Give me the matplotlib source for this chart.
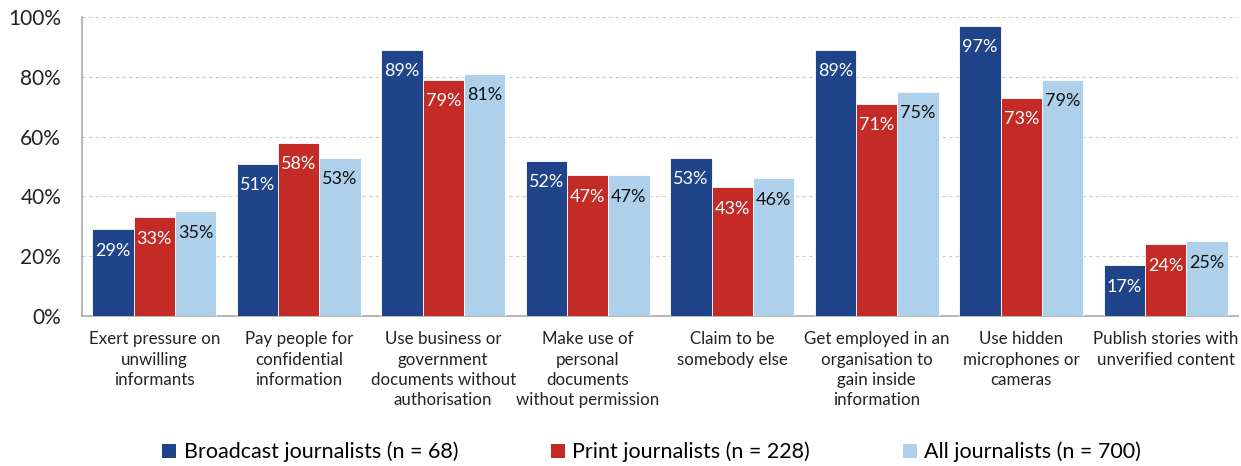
import matplotlib
matplotlib.use("Agg")
import matplotlib.pyplot as plt
import numpy as np
from matplotlib.patches import Patch

plt.rcParams['font.family'] = ['Lato', 'DejaVu Sans']

categories = [
    "Exert pressure on\nunwilling\ninformants",
    "Pay people for\nconfidential\ninformation",
    "Use business or\ngovernment\ndocuments without\nauthorisation",
    "Make use of\npersonal\ndocuments\nwithout permission",
    "Claim to be\nsomebody else",
    "Get employed in an\norganisation to\ngain inside\ninformation",
    "Use hidden\nmicrophones or\ncameras",
    "Publish stories with\nunverified content",
]
broadcast = [29, 51, 89, 52, 53, 89, 97, 17]
print_j = [33, 58, 79, 47, 43, 71, 73, 24]
all_j = [35, 53, 81, 47, 46, 75, 79, 25]
series_names = ["Broadcast journalists (n = 68)", "Print journalists (n = 228)", "All journalists (n = 700)"]
colors = ["#1F4489", "#C42B26", "#AED0EA"]
text_colors = ["white", "white", "#111111"]
yticks = [0, 20, 40, 60, 80, 100]

fig = plt.figure(figsize=(12.41, 4.66), dpi=100)
ax = fig.add_axes([82/1241, 1 - 316/466, (1238-82)/1241, (316-17)/466])

x = np.arange(len(categories))
w = 0.285
for i, (vals, c, tc) in enumerate(zip([broadcast, print_j, all_j], colors, text_colors)):
    pos = x + (i - 1) * w
    ax.bar(pos, vals, width=w, color=c, edgecolor='white', linewidth=0.6, zorder=3)
    for p, v in zip(pos, vals):
        ax.text(p, v - 4.5, f"{v}%", ha='center', va='top', color=tc, fontsize=13, zorder=4)

ax.set_xlim(-0.5, len(categories) - 0.5)
ax.set_ylim(0, 100)
ax.set_yticks(yticks)
ax.set_yticklabels([f"{t}%" for t in yticks], fontsize=15, color='#222222')
ax.yaxis.grid(True, linestyle=(0, (3, 3)), color='#cccccc', linewidth=0.8, zorder=0)
ax.tick_params(axis='y', length=0, pad=15)
ax.tick_params(axis='x', length=0, pad=11)
ax.set_xticks(x)
ax.set_xticklabels(categories, fontsize=12.2, color='#222222', va='top', linespacing=1.33)
for s in ['top', 'right']:
    ax.spines[s].set_visible(False)
for s in ['left', 'bottom']:
    ax.spines[s].set_color('#aaaaaa')
    ax.spines[s].set_linewidth(1.2)

handles = [Patch(facecolor=c, label=n) for c, n in zip(colors, series_names)]
fig.legend(handles=handles, loc='center', bbox_to_anchor=(0.525, 1 - 452/466), ncol=3,
           frameon=False, fontsize=15.5, handlelength=0.65, handleheight=0.65,
           handletextpad=0.35, columnspacing=4.3)

fig.savefig("out.png", dpi=100)
